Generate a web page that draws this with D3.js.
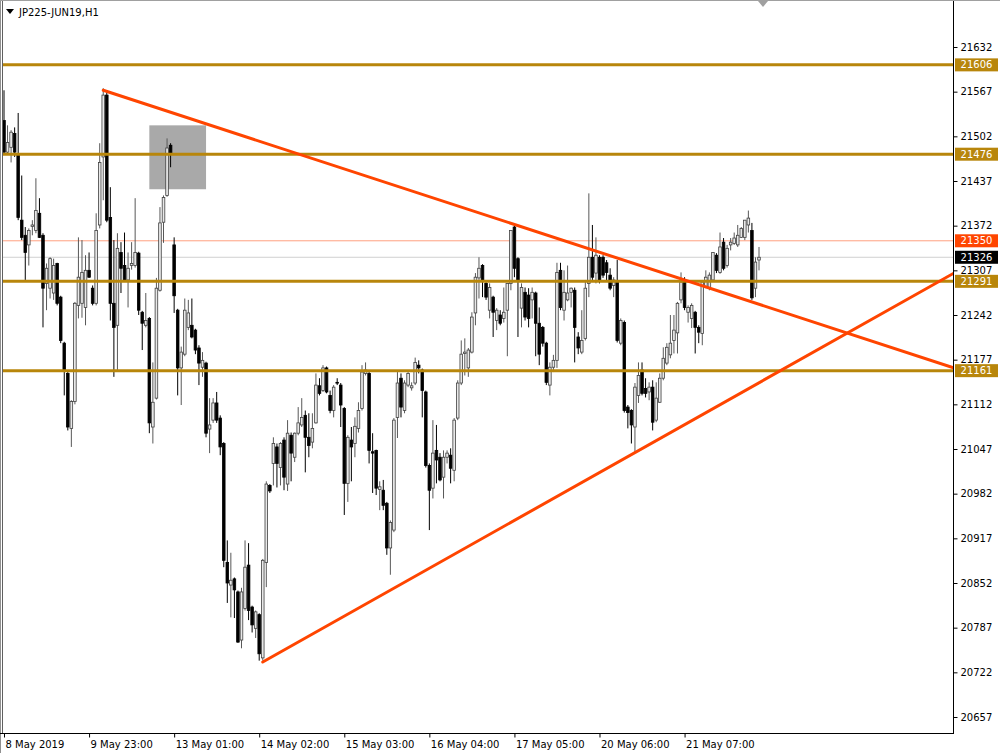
<!DOCTYPE html>
<html><head><meta charset="utf-8">
<script src="https://cdn.jsdelivr.net/npm/d3@7/dist/d3.min.js"></script>
<style>body{margin:0;background:#fff;} svg{display:block;font-family:"DejaVu Sans",sans-serif;}</style>
</head><body><svg id="c" width="1000" height="753"></svg>
<script>
const open = [21525,21479,21486,21506,21477,21380,21358,21344,21371,21365,
21390,21358,21288,21281,21274,21317,21268,21201,21157,21077,
21116,21256,21259,21253,21307,21281,21259,21373,21472,21562,
21384,21259,21227,21333,21314,21293,21314,21314,21332,21246,
21227,21237,21079,21121,21278,21377,21416,21489,21344,21249,
21165,21185,21224,21227,21220,21194,21166,21172,21076,21089,
21114,21092,21055,20882,20849,20858,20839,20769,20815,20878,
20817,20786,20806,20743,20882,20994,21026,21050,21020,21060,
20996,21067,21035,21070,21082,21096,21064,21057,21085,21139,
21132,21165,21125,21103,21144,21140,21106,20997,21060,21055,
21077,21106,21157,21157,21043,21045,20988,20987,20968,20903,
20929,21093,21150,21103,21140,21136,21143,21169,21162,21130,
21023,20990,21045,21035,21006,21035,21038,21016,21092,21143,
21186,21165,21188,21245,21296,21314,21288,21249,21268,21234,
21242,21237,21249,21288,21370,21324,21252,21275,21271,21264,
21274,21230,21224,21201,21140,21166,21176,21307,21249,21264,
21275,21278,21210,21188,21208,21288,21326,21303,21326,21326,
21318,21300,21285,21290,21201,21231,21108,21103,21079,21125,
21162,21135,21130,21137,21089,21115,21150,21172,21184,21205,
21216,21264,21290,21246,21237,21246,21224,21215,21282,21282,
21293,21329,21304,21348,21314,21344,21346,21344,21355,21355,
21373,21365,21281,21322];
const high = [21569,21518,21511,21515,21536,21445,21370,21368,21380,21441,
21412,21361,21317,21326,21324,21318,21270,21203,21159,21118,
21261,21355,21351,21329,21333,21285,21390,21492,21572,21566,
21428,21351,21361,21348,21362,21333,21348,21412,21334,21248,
21274,21239,21173,21296,21399,21416,21499,21492,21355,21251,
21196,21266,21264,21266,21222,21198,21188,21174,21121,21121,
21130,21096,21057,20914,20896,20860,20841,20845,20914,20910,
20819,20812,20808,20887,21000,20996,21064,21055,21057,21064,
21089,21071,21071,21108,21121,21103,21099,21099,21157,21150,
21169,21167,21132,21140,21150,21143,21108,21067,21079,21093,
21115,21169,21173,21159,21070,21046,21000,21002,20970,20943,
21092,21159,21157,21147,21159,21144,21180,21176,21164,21132,
21026,21089,21082,21041,21045,21045,21048,21092,21147,21205,
21208,21194,21246,21303,21326,21316,21290,21288,21270,21252,
21249,21282,21288,21365,21372,21326,21288,21282,21281,21282,
21276,21253,21226,21203,21173,21184,21318,21318,21307,21314,
21282,21282,21217,21249,21293,21419,21373,21355,21329,21329,
21322,21310,21297,21322,21237,21234,21111,21105,21143,21173,
21173,21150,21144,21147,21144,21157,21195,21201,21242,21242,
21261,21304,21297,21256,21259,21248,21227,21293,21307,21304,
21333,21332,21362,21354,21344,21354,21362,21373,21370,21380,
21394,21376,21326,21341];
const low = [21477,21477,21464,21472,21380,21351,21293,21314,21358,21361,
21354,21224,21249,21266,21264,21256,21201,21125,21074,21050,
21112,21237,21238,21227,21296,21256,21256,21368,21409,21377,
21234,21152,21162,21274,21293,21253,21308,21311,21242,21191,
21224,21070,21055,21119,21276,21347,21414,21457,21245,21125,
21111,21182,21220,21208,21185,21140,21152,21064,21041,21085,
21085,21038,20875,20823,20802,20801,20765,20757,20812,20798,
20780,20772,20739,20739,20846,20983,20994,20991,20994,20987,
20986,21000,21028,21067,21079,21013,21035,21048,21084,21125,
21130,21128,21099,21093,21140,21079,20951,20970,21000,21035,
21071,21103,21154,21026,20983,20980,20958,20958,20893,20864,
20926,21063,21093,21099,21137,21132,21140,21157,21093,21020,
20929,20975,20997,21000,20975,21026,20997,21000,21089,21140,
21154,21152,21186,21227,21266,21268,21264,21237,21210,21220,
21227,21231,21182,21278,21297,21210,21224,21234,21224,21237,
21182,21169,21196,21140,21125,21159,21165,21249,21234,21262,
21253,21173,21185,21185,21205,21268,21293,21288,21288,21296,
21290,21278,21268,21202,21198,21100,21077,21055,21041,21114,
21125,21122,21118,21074,21086,21114,21147,21169,21179,21186,
21186,21259,21249,21231,21223,21186,21201,21198,21281,21278,
21290,21303,21302,21307,21311,21336,21344,21341,21354,21351,
21362,21264,21268,21307];
const close = [21479,21493,21508,21479,21384,21355,21333,21365,21373,21394,
21355,21281,21310,21324,21314,21259,21205,21162,21079,21116,
21259,21297,21304,21307,21297,21259,21365,21464,21562,21380,
21259,21224,21339,21310,21293,21310,21317,21333,21249,21230,
21234,21085,21115,21281,21376,21413,21485,21477,21270,21165,
21188,21249,21245,21210,21191,21172,21176,21070,21082,21114,
21089,21050,20885,20852,20856,20842,20766,20839,20875,20812,
20791,20810,20749,20885,20996,20986,21055,21026,21055,21006,
21070,21041,21070,21085,21093,21064,21052,21077,21140,21128,
21165,21130,21103,21137,21143,21111,20997,21064,21050,21080,
21103,21159,21162,21045,21041,20990,20992,20965,20903,20940,
21089,21143,21108,21143,21157,21139,21173,21165,21132,21023,
20987,21041,21031,21002,21035,21041,21019,21089,21143,21185,
21188,21191,21239,21297,21310,21293,21268,21282,21246,21249,
21230,21246,21288,21365,21310,21293,21282,21239,21237,21275,
21230,21185,21201,21144,21166,21176,21304,21253,21275,21274,
21281,21224,21194,21205,21281,21326,21297,21329,21293,21300,
21304,21281,21293,21205,21234,21103,21100,21082,21137,21154,
21128,21128,21137,21086,21121,21150,21179,21195,21201,21220,
21259,21290,21253,21253,21256,21224,21217,21290,21297,21300,
21333,21307,21341,21310,21339,21348,21354,21358,21368,21380,
21383,21267,21319,21326];

const dateTickIndex = [0,24,48,72,96,120,144,168,192];
const dateTickLabels = ["8 May 2019","9 May 23:00","13 May 01:00","14 May 02:00","15 May 03:00","16 May 04:00","17 May 05:00","20 May 06:00","21 May 07:00"];
const priceTicks = [21632,21567,21502,21437,21372,21307,21242,21177,21112,21047,20982,20917,20852,20787,20722,20657];
const levels = [21606,21476,21291,21161];
const askPrice = 21350;
const bidPrice = 21326;
const trendUpper = [[28,21569],[268,21165]];
const trendLower = [[73,20737],[268,21303]];
const boxIndex = [41,57];
const boxPrice = [21518,21425];
const title = "JP225-JUN19,H1";

const svg = d3.select("#c");
const W = 1000, H = 753, PR = 953, PB = 733;
const x = d3.scaleLinear().domain([0, 213]).range([4, 759]);
const y = d3.scaleLinear().domain([20657, 21632]).range([717, 47]);

svg.append("rect").attr("width",W).attr("height",H).attr("fill","#fff");
svg.append("defs").append("clipPath").attr("id","clip")
  .append("rect").attr("x",3).attr("y",2).attr("width",PR-3).attr("height",PB-2);

const plot = svg.append("g").attr("clip-path","url(#clip)");

plot.append("rect")
  .attr("x", x(boxIndex[0])).attr("width", x(boxIndex[1]) - x(boxIndex[0]))
  .attr("y", y(boxPrice[0])).attr("height", y(boxPrice[1]) - y(boxPrice[0]))
  .attr("fill", "#a9a9a9");

plot.append("line").attr("x1",3).attr("x2",PR).attr("y1",y(askPrice)).attr("y2",y(askPrice))
  .attr("stroke","#ffa080").attr("stroke-width",1);
plot.append("line").attr("x1",3).attr("x2",PR).attr("y1",y(bidPrice)).attr("y2",y(bidPrice))
  .attr("stroke","#d0d0d0").attr("stroke-width",1);

const data = open.map((o,i)=>({i, o, h:high[i], l:low[i], c:close[i]}));
plot.selectAll("line.wick").data(data).join("line").attr("class","wick")
  .attr("x1",d=>x(d.i)).attr("x2",d=>x(d.i))
  .attr("y1",d=>y(Math.max(d.h,d.o,d.c))).attr("y2",d=>y(Math.min(d.l,d.o,d.c)))
  .attr("stroke",d=>d.c>=d.o?"#585858":"#000").attr("stroke-width",1);
plot.selectAll("rect.body").data(data).join("rect").attr("class","body")
  .attr("x",d=>x(d.i)-1.3).attr("width",2.6)
  .attr("y",d=>y(Math.max(d.o,d.c)))
  .attr("height",d=>Math.max(0.8, Math.abs(y(d.o)-y(d.c))))
  .attr("fill",d=>d.c>=d.o?"#e8e8e8":"#000")
  .attr("stroke",d=>d.c>=d.o?"#404040":"#000").attr("stroke-width",0.8);

plot.selectAll("line.level").data(levels).join("line").attr("class","level")
  .attr("x1",3).attr("x2",PR).attr("y1",d=>y(d)).attr("y2",d=>y(d))
  .attr("stroke","#b8860b").attr("stroke-width",3);

const tl = d3.line().x(d=>x(d[0])).y(d=>y(d[1]));
[trendUpper, trendLower].forEach(t=>{
  plot.append("path").attr("d", tl(t)).attr("fill","none")
    .attr("stroke","#ff4500").attr("stroke-width",3).attr("stroke-linecap","round");
});

svg.append("line").attr("x1",0.5).attr("x2",0.5).attr("y1",0).attr("y2",H).attr("stroke","#909090");
svg.append("line").attr("x1",2.5).attr("x2",2.5).attr("y1",1).attr("y2",PB).attr("stroke","#606060");
svg.append("line").attr("x1",0).attr("x2",W).attr("y1",0.5).attr("y2",0.5).attr("stroke","#a0a0a0");
svg.append("line").attr("x1",PR+0.5).attr("x2",PR+0.5).attr("y1",1).attr("y2",PB).attr("stroke","#000");
svg.append("line").attr("x1",0).attr("x2",PR+1).attr("y1",PB+0.5).attr("y2",PB+0.5).attr("stroke","#000");

const ay = svg.append("g").attr("transform",`translate(${PR+0.5},0)`)
  .call(d3.axisRight(y).tickValues(priceTicks).tickSize(4).tickPadding(3).tickFormat(d3.format("d")));
ay.select(".domain").remove();
ay.selectAll("text").attr("font-size",10).attr("fill","#000").attr("font-family","DejaVu Sans");
ay.selectAll("line").attr("stroke","#000");

const ax = svg.append("g").attr("transform",`translate(0,${PB+0.5})`)
  .call(d3.axisBottom(x).tickValues(dateTickIndex).tickSize(4).tickPadding(3)
    .tickFormat((d,i)=>dateTickLabels[i]));
ax.select(".domain").remove();
ax.selectAll("text").attr("font-size",10).attr("fill","#000").attr("text-anchor","start").attr("dx",1)
  .attr("font-family","DejaVu Sans");
ax.selectAll("line").attr("stroke","#000");

function priceLabel(v, bg, fg){
  const g = svg.append("g");
  g.append("rect").attr("x",PR+2).attr("y",y(v)-6.5).attr("width",43).attr("height",13).attr("fill",bg);
  g.append("text").attr("x",PR+23.5).attr("y",y(v)).attr("text-anchor","middle")
    .attr("dominant-baseline","central").attr("font-size",10).attr("fill",fg).text(v);
}
levels.forEach(v=>priceLabel(v,"#b8860b","#fff"));
priceLabel(askPrice,"#ff4500","#fff");
priceLabel(bidPrice,"#000","#fff");

svg.append("path").attr("d","M6,9 L14,9 L10,14 Z").attr("fill","#000");
svg.append("text").attr("x",19).attr("y",16).attr("font-size",10).attr("fill","#000").text(title);
svg.append("path").attr("d","M758,1 L768,1 L763,7 Z").attr("fill","#a0a0a0");
</script></body></html>
